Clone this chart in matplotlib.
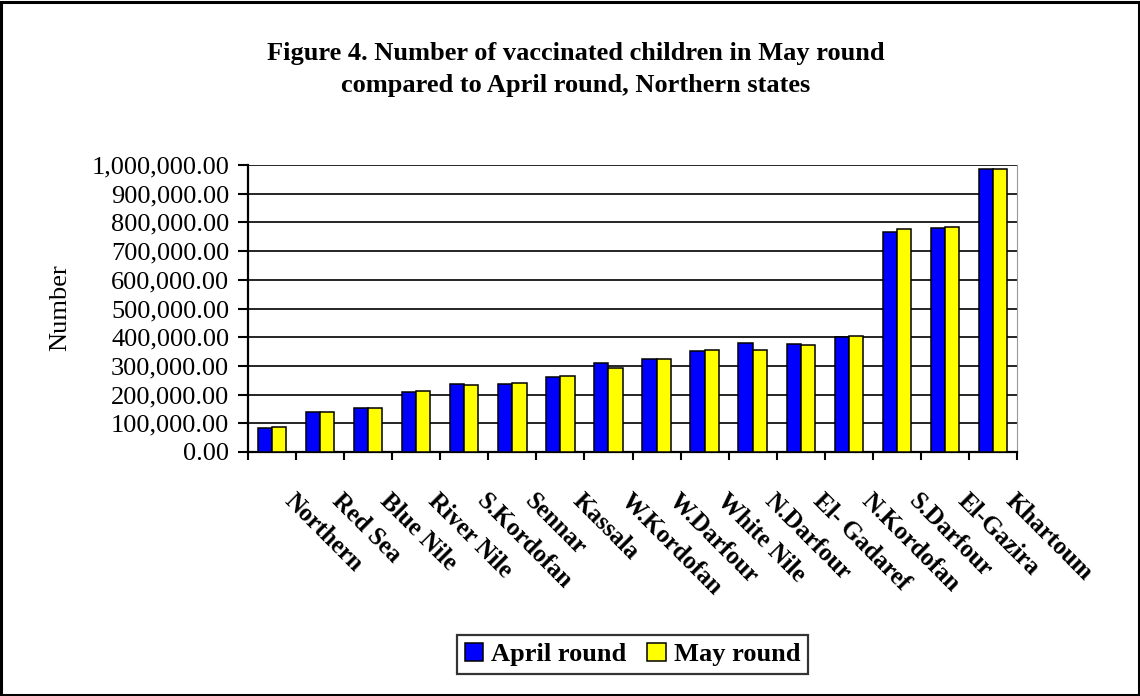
import numpy as np
import matplotlib.pyplot as plt
from matplotlib.patches import Rectangle
from matplotlib.transforms import ScaledTranslation
from matplotlib.ticker import FuncFormatter, MultipleLocator

states = ['Northern', 'Red Sea', 'Blue Nile', 'River Nile', 'S.Kordofan', 'Sennar',
          'Kassala', 'W.Kordofan', 'W.Darfour', 'White Nile', 'N.Darfour',
          'El- Gadaref', 'N.Kordofan', 'S.Darfour', 'El-Gazira', 'Khartoum']
april = [85000, 141000, 152000, 208000, 237000, 237000, 263000, 309000,
         323000, 353000, 381000, 378000, 401000, 767000, 781000, 985000]
may = [88000, 141000, 152000, 213000, 234000, 241000, 264000, 292000,
       324000, 354000, 354000, 373000, 404000, 776000, 783000, 985000]

plt.rcParams['font.family'] = ['Liberation Serif', 'DejaVu Serif']

W, H = 1140, 696
fig = plt.figure(figsize=(W / 100, H / 100), dpi=100)
ax = fig.add_axes([248 / W, 1 - 452 / H, (1017 - 248) / W, (452 - 165) / H])

x = np.arange(len(states))
w = 0.295
ax.bar(x - w / 2, april, w, color='#0000ff', edgecolor='black', linewidth=1.1,
       label='April round', zorder=3)
ax.bar(x + w / 2, may, w, color='#ffff00', edgecolor='black', linewidth=1.1,
       label='May round', zorder=3)

ax.set_xlim(-0.5, len(states) - 0.5)
ax.set_ylim(0, 1000000)
ax.yaxis.set_major_locator(MultipleLocator(100000))
ax.yaxis.set_major_formatter(FuncFormatter(lambda v, p: f'{v:,.2f}'))
ax.grid(axis='y', color='black', linewidth=1.2, zorder=0)
ax.set_axisbelow(True)

ax.set_xticks(x)
ax.set_xticklabels(states, rotation=-45, ha='left', va='top',
                   rotation_mode='anchor', fontweight='bold', fontsize=18)
ax.set_xticks(np.arange(-0.5, len(states), 1), minor=True)
ax.tick_params(axis='x', which='major', length=0, pad=27)
ax.tick_params(axis='x', which='minor', length=6, width=1.5, direction='out')
ax.tick_params(axis='y', labelsize=19, length=7, width=1.5, pad=6.5)
offset = ScaledTranslation(24 / 100, 0, fig.dpi_scale_trans)
for lab in ax.get_xticklabels():
    lab.set_transform(lab.get_transform() + offset)

ax.spines['top'].set_visible(False)
ax.spines['right'].set_color('#999999')
ax.spines['left'].set_linewidth(1.6)
ax.spines['bottom'].set_linewidth(1.6)

fig.text(576 / W, 1 - 60 / H, 'Figure 4. Number of vaccinated children in May round',
         ha='center', va='baseline', fontsize=19, fontweight='bold')
fig.text(576 / W, 1 - 92 / H, 'compared to April round, Northern states',
         ha='center', va='baseline', fontsize=19, fontweight='bold')
fig.text(60 / W, 1 - 308 / H, 'Number', rotation=90, ha='center', va='center', fontsize=19)

leg = fig.legend(loc='center', bbox_to_anchor=(632.5 / W, 1 - 654.5 / H), ncol=2,
                 prop={'weight': 'bold', 'size': 19}, frameon=True, fancybox=False,
                 edgecolor='black', handlelength=0.7, handleheight=0.7,
                 handletextpad=0.3, columnspacing=0.8, borderpad=0.3)
leg.get_frame().set_linewidth(1.6)

fig.patches.append(Rectangle((0.001, 0.002), 0.998, 0.995, transform=fig.transFigure,
                             fill=False, edgecolor='black', linewidth=2.2))

fig.savefig('out.png', dpi=100)
